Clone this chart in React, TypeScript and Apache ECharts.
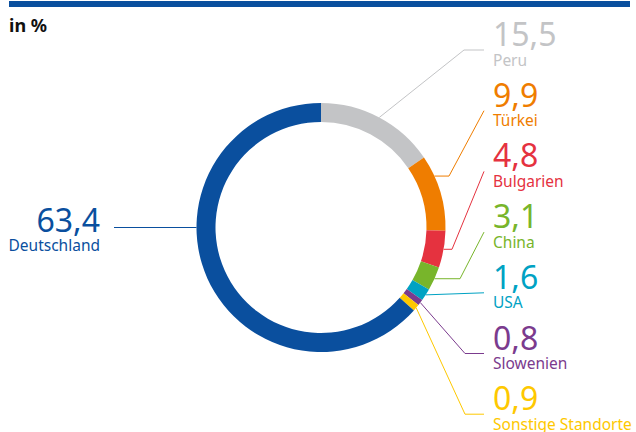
import React, { useEffect, useRef } from 'react';
import * as echarts from 'echarts';

// ---- data ----
const categories = ['Peru', 'Türkei', 'Bulgarien', 'China', 'USA', 'Slowenien', 'Sonstige Standorte', 'Deutschland'];
const values = [15.5, 9.9, 4.8, 3.1, 1.6, 0.8, 0.9, 63.4];
const colors = ['#c3c4c6', '#ef7d00', '#e5323f', '#78b52b', '#00a2c3', '#7b3b8e', '#fec800', '#0a4f9e'];
const unitLabel = 'in %';

// ---- layout ----
const W = 636;
const H = 432;
const CX = 321;
const CY = 227.5;
const R_OUT = 124.5;
const R_IN = 105.5;
const FONT = '"Noto Sans", "Open Sans", sans-serif';

const RIGHT_X = 493; // label left edge
const LINE_END_X = 484;
const FIRST_TOP = 24;
const STEP = 60.7;
const BLOCK_OFFSET = 8.5; // block top -> digit top

type Spec = { mode: 'label' | 'slice' | 'none'; kx?: number; angle?: number };
const lineSpecs: Spec[] = [
  { mode: 'label', kx: 464 },
  { mode: 'slice', kx: 449, angle: 65.6 },
  { mode: 'slice', kx: 452 },
  { mode: 'slice', kx: 460 },
  { mode: 'none' },
  { mode: 'label', kx: 465 },
  { mode: 'label', kx: 465 },
  { mode: 'none', angle: 270 },
];

const fmt = (v: number) => v.toFixed(1).replace('.', ',');

export default function App() {
  const ref = useRef<HTMLDivElement>(null);
  useEffect(() => {
    document.body.style.margin = '0';
    const chart = echarts.init(ref.current!, null, { renderer: 'svg' });
    const data = categories.map((name, i) => ({
      name,
      value: values[i],
      itemStyle: { color: colors[i] },
      label: {
        formatter: `{v|${fmt(values[i])}}\n{n|${name}}`,
        rich: {
          v: { fontSize: 32, lineHeight: 36, color: colors[i], fontFamily: FONT },
          n: { fontSize: 15.5, lineHeight: 16, color: colors[i], fontFamily: FONT },
        },
      },
    }));
    const ringPoint = (deg: number, r: number) => {
      const t = (deg * Math.PI) / 180;
      return [CX + r * Math.sin(t), CY - r * Math.cos(t)];
    };
    chart.setOption({
      animation: false,
      title: {
        text: unitLabel,
        left: 4,
        top: 11,
        textStyle: { fontSize: 18, fontWeight: 'bold', color: '#111', fontFamily: FONT },
      },
      graphic: [
        { type: 'rect', shape: { x: 9, y: 1, width: 621, height: 6 }, style: { fill: '#0a4f9e' } },
      ],
      series: [
        {
          type: 'pie',
          center: [CX, CY],
          radius: [R_IN, R_OUT],
          startAngle: 90,
          clockwise: true,
          avoidLabelOverlap: false,
          emphasis: { disabled: true },
          label: { show: true, position: 'outside' },
          labelLine: { show: true, length: 10, length2: 10, lineStyle: { width: 1 } },
          labelLayout: (p: any) => {
            const i = p.dataIndex;
            const spec = lineSpecs[i];
            let anchor = p.labelLinePoints ? p.labelLinePoints[0] : [CX, CY];
            if (spec.angle != null) anchor = ringPoint(spec.angle, R_OUT);
            if (i === categories.length - 1) {
              const end = [114, anchor[1]];
              return {
                x: 100,
                y: anchor[1] - 18 - BLOCK_OFFSET,
                align: 'right',
                verticalAlign: 'top',
                labelLinePoints: [anchor, end],
              };
            }
            const top = FIRST_TOP + STEP * i;
            const end = [LINE_END_X, top + 26];
            let pts: number[][];
            if (spec.mode === 'label') pts = [anchor, [spec.kx!, end[1]], end];
            else if (spec.mode === 'slice') pts = [anchor, [spec.kx!, anchor[1]], end];
            else pts = [anchor, end];
            return {
              x: RIGHT_X,
              y: top - BLOCK_OFFSET,
              align: 'left',
              verticalAlign: 'top',
              labelLinePoints: pts,
            };
          },
          data,
        },
      ],
    });
    return () => chart.dispose();
  }, []);
  return <div ref={ref} style={{ width: W, height: H }} />;
}
